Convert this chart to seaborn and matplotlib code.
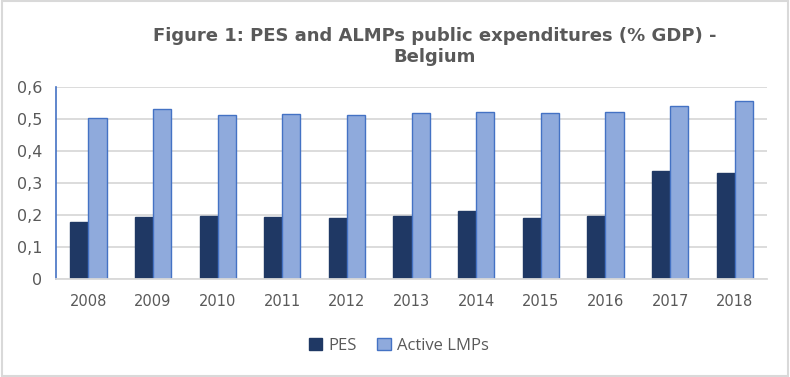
import numpy as np
import pandas as pd
import matplotlib
matplotlib.use('Agg')
import matplotlib.pyplot as plt
import seaborn as sns
from matplotlib.ticker import FuncFormatter, MultipleLocator
from matplotlib.patches import Rectangle

# data
years = ['2008', '2009', '2010', '2011', '2012', '2013', '2014', '2015', '2016', '2017', '2018']
pes = [0.179, 0.195, 0.198, 0.195, 0.192, 0.198, 0.214, 0.192, 0.198, 0.339, 0.332]
active_lmps = [0.503, 0.531, 0.513, 0.516, 0.513, 0.519, 0.522, 0.519, 0.522, 0.541, 0.556]
series = ['PES', 'Active LMPs']

df = pd.DataFrame({'year': years * 2,
                   'series': ['PES'] * len(years) + ['Active LMPs'] * len(years),
                   'value': pes + active_lmps})

sns.set_style('white')
plt.rcParams['font.family'] = ['DejaVu Sans']

fig = plt.figure(figsize=(7.9, 3.77), dpi=100)
ax = fig.add_axes([0.071, 0.26, 0.90, 0.509])

pal = {'PES': '#1F3864', 'Active LMPs': '#8FAADC'}
sns.barplot(data=df, x='year', y='value', hue='series', hue_order=series,
            palette=pal, width=0.56, saturation=1, ax=ax, legend=False)

# outline on the light bars only
for cont, ec in zip(ax.containers, ['#1F3864', '#4472C4']):
    for p in cont:
        p.set_edgecolor(ec)
        p.set_linewidth(1.0)

ax.set_ylim(0, 0.6)
ax.set_xlim(-0.5, len(years) - 0.5)
ax.yaxis.set_major_locator(MultipleLocator(0.1))
ax.yaxis.set_major_formatter(FuncFormatter(lambda v, _: '0' if abs(v) < 1e-9 else ('%.1f' % v).replace('.', ',')))
ax.grid(axis='y', color='#D9D9D9', linewidth=1.3)
ax.set_axisbelow(True)
ax.set_xlabel('')
ax.set_ylabel('')

for s in ['top', 'right']:
    ax.spines[s].set_visible(False)
ax.spines['bottom'].set_color('#D9D9D9')
ax.spines['bottom'].set_linewidth(1.3)
ax.spines['left'].set_color('#4472C4')
ax.spines['left'].set_linewidth(1.2)

ax.tick_params(axis='y', colors='#4472C4', direction='in', length=4, width=1.2,
               labelcolor='#595959', labelsize=11.5, pad=10)
ax.tick_params(axis='x', length=0, labelcolor='#595959', labelsize=10.5, pad=11)

fig.text(0.55, 0.905, 'Figure 1: PES and ALMPs public expenditures (% GDP) -',
         ha='center', va='center', fontsize=13, fontweight='bold',
         color='#595959')
fig.text(0.55, 0.848, 'Belgium', ha='center', va='center', fontsize=13,
         fontweight='bold', color='#595959')

handles = [Rectangle((0, 0), 1, 1, facecolor=pal[s],
                     edgecolor='#1F3864' if s == 'PES' else '#4472C4') for s in series]
fig.legend(handles, series, loc='center', bbox_to_anchor=(0.505, 0.083), ncol=2,
           frameon=False, prop={'family': ['Open Sans', 'DejaVu Sans'], 'size': 12},
           labelcolor='#595959',
           handlelength=0.8, handleheight=0.8, handletextpad=0.4, columnspacing=1.2)

# chart border
fig.patches.append(Rectangle((0.002, 0.003), 0.996, 0.994, transform=fig.transFigure,
                             fill=False, edgecolor='#D9D9D9', linewidth=1.5))

fig.savefig('out.png', dpi=100)
